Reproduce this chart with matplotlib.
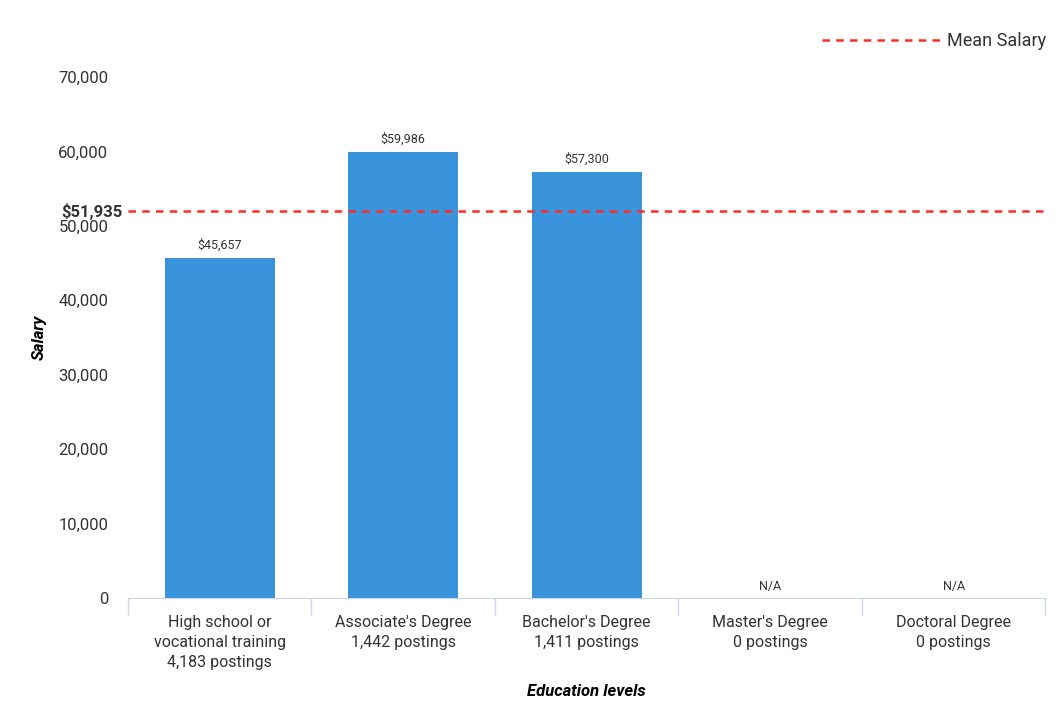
import numpy as np
import matplotlib.pyplot as plt
from matplotlib.ticker import FuncFormatter

categories = ["High school or\nvocational training\n4,183 postings",
              "Associate's Degree\n1,442 postings",
              "Bachelor's Degree\n1,411 postings",
              "Master's Degree\n0 postings",
              "Doctoral Degree\n0 postings"]
salaries = [45657, 59986, 57300, None, None]
mean_salary = 51935

plt.rcParams['font.family'] = ['Roboto', 'DejaVu Sans']

fig = plt.figure(figsize=(10.57, 7.04), dpi=100)
ax = fig.add_axes([0.121, 0.1506, 0.868, 0.74])

x = np.arange(len(categories))
for i, v in enumerate(salaries):
    if v is None:
        ax.text(i, 700, "N/A", ha='center', va='bottom', fontsize=9, color='#333333')
    else:
        ax.bar(i, v, width=0.6, color='#3a94db', zorder=2)
        ax.text(i, v + 800, "${:,}".format(v), ha='center', va='bottom', fontsize=9, color='#333333')

ax.axhline(mean_salary, color='#ff2a2a', linestyle=(0, (3, 2.5)), linewidth=1.8, zorder=3)
ax.text(-0.53, mean_salary, "${:,}".format(mean_salary), ha='right', va='center',
        fontsize=12, fontweight='bold', color='#333333')

ax.set_xlim(-0.5, len(categories) - 0.5)
ax.set_ylim(0, 70000)
ax.set_yticks(np.arange(0, 70001, 10000))
ax.yaxis.set_major_formatter(FuncFormatter(lambda v, p: "{:,.0f}".format(v)))
ax.tick_params(axis='y', length=0, labelsize=12, pad=14, colors='#333333')

ax.set_xticks(x)
ax.set_xticklabels(categories, fontsize=11.5, color='#333333', linespacing=1.45)
ax.set_xticks(np.arange(-0.5, len(categories)), minor=True)
ax.tick_params(axis='x', which='major', length=0, pad=12)
ax.tick_params(axis='x', which='minor', length=12, color='#ccd6eb', width=1)

for s in ['top', 'right', 'left']:
    ax.spines[s].set_visible(False)
ax.spines['bottom'].set_color('#ccd6eb')

ax.set_ylabel("Salary", fontsize=12, fontweight='bold', style='italic', labelpad=8)
ax.set_xlabel("Education levels", fontsize=12, fontweight='bold', style='italic', labelpad=10)

leg = ax.legend([plt.Line2D([], [], color='#ff2a2a', linestyle=(0, (3, 2.5)), linewidth=1.8)],
                ["Mean Salary"], loc='lower right', bbox_to_anchor=(1.018, 1.02),
                frameon=False, fontsize=13, handlelength=6.6, handletextpad=0.3)
for t in leg.get_texts():
    t.set_color('#333333')

fig.savefig('out.png', dpi=100)
